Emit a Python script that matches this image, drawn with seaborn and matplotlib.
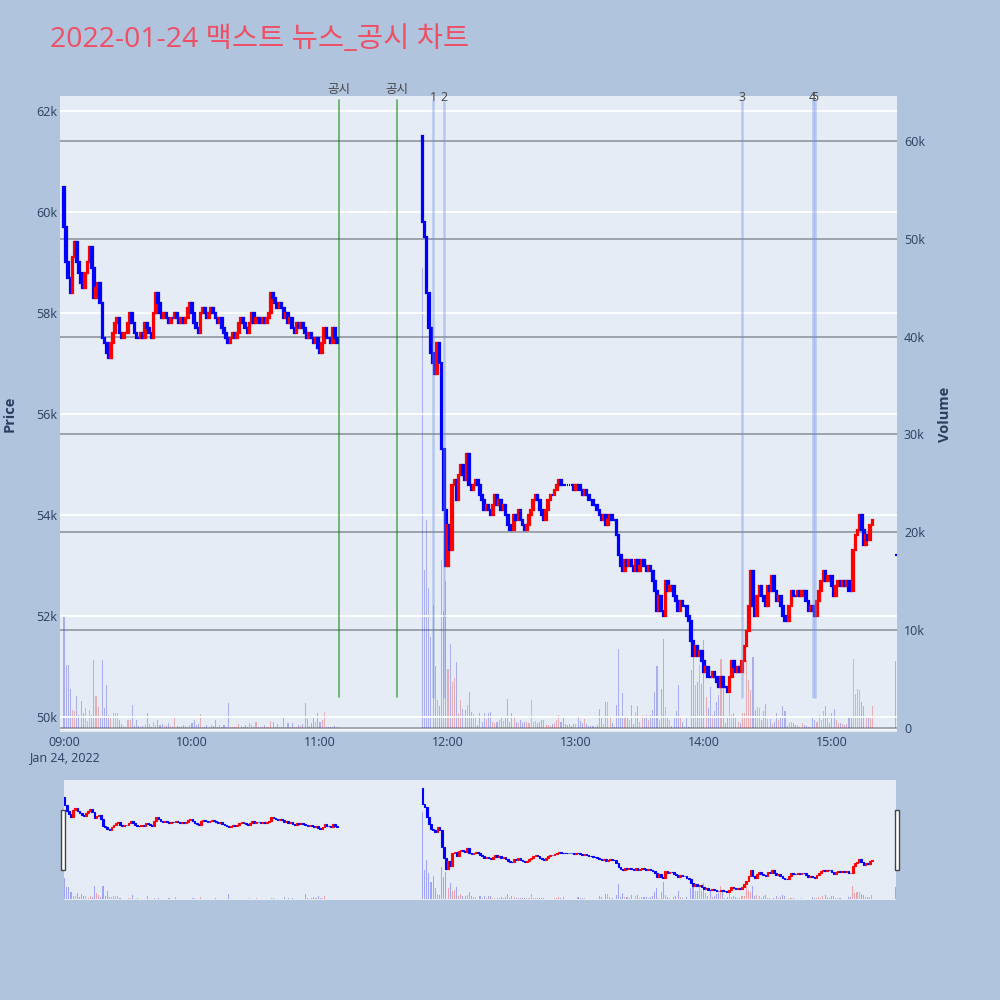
import numpy as np
import pandas as pd
import matplotlib
matplotlib.use("Agg")
import matplotlib.pyplot as plt
import seaborn as sns
from matplotlib.patches import Rectangle

# ---- data: prices in 100 won, volumes in 100 shares, one value per minute ----
seg_a_start = "09:00"
seg_a_open = 605
seg_a_close = [
    597, 590, 587, 584, 591, 594, 590, 588, 586, 585,
    588, 590, 593, 589, 583, 585, 586, 582, 575, 574,
    572, 571, 574, 576, 578, 579, 576, 575, 576, 576,
    578, 580, 578, 576, 575, 575, 576, 575, 578, 577,
    576, 575, 580, 584, 582, 580, 579, 580, 579, 578,
    579, 579, 580, 579, 578, 579, 578, 579, 581, 582,
    580, 578, 577, 576, 580, 581, 580, 579, 580, 581,
    580, 579, 578, 579, 577, 576, 575, 574, 575, 576,
    575, 576, 578, 579, 578, 577, 576, 578, 580, 578,
    579, 579, 578, 579, 578, 579, 580, 584, 583, 582,
    581, 582, 581, 579, 580, 578, 579, 577, 576, 578,
    577, 578, 577, 576, 575, 576, 575, 574, 575, 573,
    572, 574, 577, 575, 575, 574, 577, 575, 574,
]
seg_a_volume = [
    114, 64, 64, 40, 18, 17, 33, 13, 28, 15,
    20, 7, 18, 13, 70, 33, 21, 10, 70, 20,
    44, 13, 11, 15, 15, 15, 8, 4, 2, 1,
    8, 8, 24, 2, 8, 2, 1, 2, 4, 15,
    4, 1, 6, 3, 8, 3, 4, 2, 2, 5,
    2, 1, 10, 2, 1, 2, 3, 2, 1, 3,
    5, 8, 3, 4, 14, 1, 1, 3, 1, 3,
    2, 8, 1, 3, 1, 3, 1, 26, 1, 1,
    1, 1, 4, 2, 1, 3, 1, 5, 3, 1,
    6, 1, 1, 1, 3, 1, 1, 7, 6, 1,
    4, 1, 1, 10, 1, 5, 1, 5, 1, 1,
    3, 2, 4, 26, 9, 2, 5, 11, 6, 15,
    6, 8, 16, 1, 1, 1, 1, 2, 1,
]

seg_b_start = "11:48"
seg_b_open = 615
seg_b_close = [
    598, 595, 584, 577, 572, 570, 568, 574, 570, 553,
    541, 530, 538, 533, 546, 547, 543, 548, 550, 548,
    547, 552, 546, 545, 546, 547, 546, 544, 543, 541,
    542, 541, 540, 542, 544, 542, 543, 541, 542, 540,
    538, 537, 537, 540, 539, 541, 539, 538, 537, 538,
    540, 541, 543, 544, 543, 541, 540, 539, 541, 543,
    544, 544, 545, 546, 547, 546, 546, 546, 546, 546,
    546, 545, 546, 546, 545, 544, 545, 544, 543, 543,
    542, 542, 541, 540, 539, 540, 538, 539, 540, 539,
    539, 536, 532, 530, 529, 531, 530, 531, 530, 529,
    531, 529, 530, 531, 530, 529, 530, 529, 527, 525,
    521, 524, 521, 520, 527, 525, 526, 526, 524, 523,
    521, 523, 522, 522, 520, 519, 515, 512, 514, 512,
    513, 511, 509, 510, 508, 508, 509, 508, 507, 506,
    508, 506, 506, 505, 508, 511, 510, 509, 510, 509,
    511, 514, 517, 522, 529, 522, 520, 524, 526, 524,
    523, 522, 526, 525, 528, 525, 523, 524, 522, 520,
    519, 519, 522, 525, 524, 524, 525, 524, 525, 525,
    523, 521, 522, 521, 520, 523, 525, 527, 529, 527,
    528, 528, 526, 524, 526, 527, 526, 527, 526, 527,
    525, 525, 533, 536, 537, 540, 537, 534, 536, 535,
    538, 539,
]
seg_b_volume = [
    470, 161, 213, 143, 93, 126, 63, 29, 22, 172,
    120, 150, 60, 86, 47, 51, 67, 15, 29, 19,
    18, 24, 37, 16, 14, 10, 3, 15, 6, 15,
    9, 15, 16, 6, 5, 6, 8, 11, 7, 11,
    30, 6, 15, 12, 6, 5, 8, 5, 6, 6,
    5, 29, 6, 7, 5, 6, 8, 8, 3, 3,
    2, 4, 5, 8, 13, 6, 11, 4, 3, 4,
    2, 4, 4, 12, 7, 5, 9, 4, 2, 2,
    2, 1, 3, 19, 11, 4, 27, 27, 12, 5,
    1, 24, 81, 10, 36, 12, 10, 8, 23, 4,
    16, 22, 6, 13, 10, 13, 8, 13, 18, 37,
    63, 8, 40, 91, 21, 12, 8, 2, 12, 17,
    44, 12, 6, 1, 11, 1, 59, 75, 44, 47,
    64, 45, 90, 32, 20, 42, 13, 17, 27, 34,
    71, 46, 5, 10, 34, 13, 15, 10, 6, 5,
    15, 15, 70, 49, 39, 73, 18, 21, 20, 8,
    17, 25, 9, 9, 4, 6, 15, 8, 11, 22,
    17, 2, 5, 6, 5, 3, 3, 1, 5, 3,
    2, 1, 1, 10, 8, 6, 13, 8, 17, 22,
    12, 5, 15, 19, 8, 5, 5, 4, 3, 4,
    10, 10, 71, 35, 40, 39, 27, 22, 10, 12,
    11, 22,
]

late_time = "15:30"
late_price = 532
late_volume = 68

disclosure_times = ["11:09", "11:36"]
news_times = ["11:53", "11:58", "14:18", "14:51", "14:52"]
news_labels = ["1", "2", "3", "4", "5"]

hour_ticks = ["09:00", "10:00", "11:00", "12:00", "13:00", "14:00", "15:00"]
price_ticks = [50000, 52000, 54000, 56000, 58000, 60000, 62000]
volume_ticks = [0, 10000, 20000, 30000, 40000, 50000, 60000]

RED = "#FF0000"
BLUE = "#0000FF"
FIG_BG = "#B0C4DE"
PLOT_BG = "#E5ECF6"
INK = "#2a3f5f"


def to_min(t):
    h, m = map(int, t.split(":"))
    return (h - 9) * 60 + m


def segment(start, first_open, closes, vols):
    close = np.array(closes) * 100
    opn = np.r_[first_open * 100, close[:-1]]
    return pd.DataFrame({
        "minute": to_min(start) + np.arange(len(close)),
        "open": opn, "close": close,
        "volume": np.array(vols) * 100,
    })


df = pd.concat([
    segment(seg_a_start, seg_a_open, seg_a_close, seg_a_volume),
    segment(seg_b_start, seg_b_open, seg_b_close, seg_b_volume),
    pd.DataFrame({"minute": [to_min(late_time)], "open": [late_price * 100],
                  "close": [late_price * 100], "volume": [late_volume * 100]}),
], ignore_index=True)
df["direction"] = np.where(df["close"] > df["open"], "up", "down")
colors = np.where(df["direction"] == "up", RED, BLUE)
body_lo = np.minimum(df["open"], df["close"])
body_h = (df["close"] - df["open"]).abs()

XLIM = (-1.875, 390.5)
PLIM = (49703, 62297)
VLIM = (-410, 64600)

sns.set_theme(style="darkgrid", rc={"axes.facecolor": PLOT_BG, "figure.facecolor": FIG_BG})
plt.rcParams["font.family"] = ["Open Sans", "Noto Sans CJK KR", "DejaVu Sans"]

fig = plt.figure(figsize=(10, 10), dpi=100)
fig.patch.set_facecolor(FIG_BG)

# main panel: volume on the right axis, drawn under the candles
ax = fig.add_axes([0.060, 0.268, 0.837, 0.636])
axv = ax.twinx()
ax.set_zorder(axv.get_zorder() + 1)
ax.patch.set_visible(False)
axv.patch.set_visible(True)
axv.patch.set_facecolor(PLOT_BG)

sns.barplot(data=df, x="minute", y="volume", hue="direction",
            palette={"up": RED, "down": BLUE}, native_scale=True, dodge=False,
            width=0.5, alpha=0.3, errorbar=None, legend=False, linewidth=0, ax=axv)
axv.set_xlabel("")
axv.set_ylabel("")

ax.bar(df["minute"], body_h, bottom=body_lo, width=0.8, color=colors,
       edgecolor=colors, linewidth=1.6, zorder=3)

ax.set_xlim(*XLIM)
ax.set_ylim(*PLIM)
axv.set_ylim(*VLIM)

ax.set_xticks([to_min(t) for t in hour_ticks])
ax.set_xticklabels([hour_ticks[0] + "\nJan 24, 2022"] + hour_ticks[1:])
ax.set_yticks(price_ticks)
ax.set_yticklabels([f"{p // 1000}k" for p in price_ticks])
axv.set_yticks(volume_ticks)
axv.set_yticklabels(["0"] + [f"{v // 1000}k" for v in volume_ticks[1:]])

ax.grid(False)
ax.grid(axis="y", color="white", linewidth=1.3)
ax.set_axisbelow(True)
axv.grid(False)
axv.grid(axis="y", color="#8a8f96", linewidth=1.3, alpha=0.85)
axv.axhline(0, color="white", linewidth=2, zorder=0.5)

ax.tick_params(axis="x", length=0, labelsize=9, colors=INK, pad=3)
ax.tick_params(axis="y", length=0, labelsize=9, colors=INK, pad=2)
axv.tick_params(axis="y", length=0, labelsize=9, colors=INK, pad=5)
for a in (ax, axv):
    for s in a.spines.values():
        s.set_visible(False)

for t in disclosure_times:
    ax.axvline(to_min(t), ymin=0.055, ymax=0.994, color="green", alpha=0.55, lw=1.3, zorder=6)
    ax.text(to_min(t), 1.0095, "공시", transform=ax.get_xaxis_transform(),
            ha="center", va="center", fontsize=9, color="#444444")
for t, lab in zip(news_times, news_labels):
    ax.axvline(to_min(t), ymin=0.055, ymax=0.994, color="#6f8fe6", alpha=0.4, lw=1.8, zorder=6)
    ax.text(to_min(t), 0.998, lab, transform=ax.get_xaxis_transform(),
            ha="center", va="center", fontsize=9, color="#444444")

fig.text(0.010, 0.586, "Price", rotation=90, ha="center", va="center",
         fontsize=10.5, color=INK, fontweight="bold")
fig.text(0.945, 0.586, "Volume", rotation=90, ha="center", va="center",
         fontsize=10.5, color=INK, fontweight="bold")
fig.text(0.050, 0.960, "2022-01-24 맥스트 뉴스_공시 차트", ha="left", va="center",
         fontsize=20.5, color="#EF4F65")

# range slider style navigator
nav = fig.add_axes([0.064, 0.100, 0.832, 0.120])
navv = nav.twinx()
nav.set_zorder(navv.get_zorder() + 1)
nav.patch.set_visible(False)
navv.patch.set_visible(True)
navv.patch.set_facecolor(PLOT_BG)
navv.bar(df["minute"], df["volume"], width=0.5, color=colors, alpha=0.3, linewidth=0)
nav.bar(df["minute"], body_h, bottom=body_lo, width=0.8, color=colors,
        edgecolor=colors, linewidth=0.8)
nav.set_xlim(-0.3, 390.3)
nav.set_ylim(*PLIM)
navv.set_ylim(*VLIM)
for a in (nav, navv):
    a.grid(False)
    a.set_xticks([])
    a.set_yticks([])
    for s in a.spines.values():
        s.set_visible(False)

for x0 in (0.061, 0.8945):
    fig.add_artist(Rectangle((x0, 0.130), 0.004, 0.060, transform=fig.transFigure,
                             facecolor="white", edgecolor="#444444", linewidth=1))

fig.savefig("out.png", dpi=100, facecolor=FIG_BG)
